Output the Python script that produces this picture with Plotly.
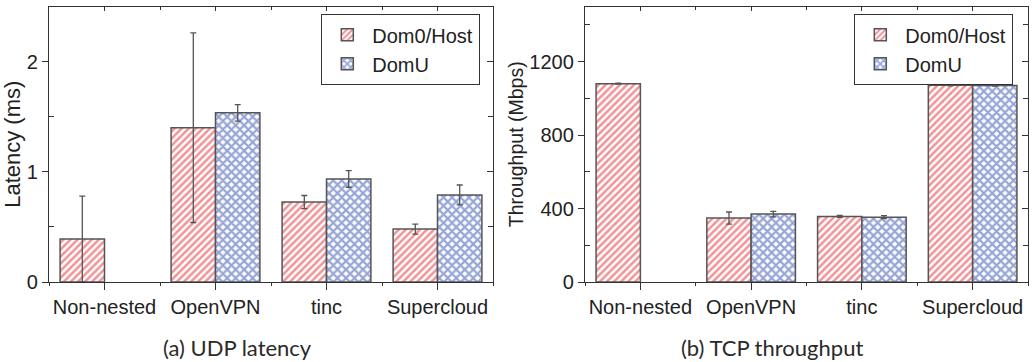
import plotly.graph_objects as go

categories = ["Non-nested", "OpenVPN", "tinc", "Supercloud"]
positions = [1, 2, 3, 4]
boundaries = [0.5, 1.5, 2.5, 3.5, 4.5]

# (a) UDP latency (ms)
lat_host = [0.39, 1.40, 0.725, 0.48]
lat_host_err = [0.39, 0.86, 0.06, 0.045]
lat_domu = [None, 1.535, 0.935, 0.79]
lat_domu_err = [0, 0.075, 0.075, 0.09]
lat_ticks = [0, 1, 2]
lat_minor = [0.5, 1.5, 2.5]

# (b) TCP throughput (Mbps)
tp_host = [1080, 348, 357, 1071]
tp_host_err = [2, 33, 5, 3]
tp_domu = [None, 370, 353, 1070]
tp_domu_err = [0, 15, 8, 3]
tp_ticks = [0, 400, 800, 1200]
tp_minor = [200, 600, 1000, 1400]

RED = "#e5262e"
BLUE = "#2f4bb0"
EDGE = "#555555"
AX = "#333333"
TXT = "#222222"
FONT = "Liberation Sans, Arial, sans-serif"

fig = go.Figure()

def add_pair(host, herr, domu, derr, xa, ya, leg):
    fig.add_trace(go.Bar(
        x=positions, y=host, width=0.4, offset=-0.4, name="Dom0/Host",
        xaxis=xa, yaxis=ya, legend=leg,
        marker=dict(color="white", line=dict(color=EDGE, width=1.5),
                    pattern=dict(shape="/", fgcolor=RED, bgcolor="white", size=5, solidity=0.5)),
        error_y=dict(type="data", array=herr, color=EDGE, thickness=1.3, width=3),
    ))
    fig.add_trace(go.Bar(
        x=positions, y=domu, width=0.4, offset=0.0, name="DomU",
        xaxis=xa, yaxis=ya, legend=leg,
        marker=dict(color="white", line=dict(color=EDGE, width=1.5),
                    pattern=dict(shape="x", fgcolor=BLUE, bgcolor="white", size=6, solidity=0.6)),
        error_y=dict(type="data", array=derr, color=EDGE, thickness=1.3, width=3),
    ))

add_pair(lat_host, lat_host_err, lat_domu, lat_domu_err, "x", "y", "legend")
add_pair(tp_host, tp_host_err, tp_domu, tp_domu_err, "x2", "y2", "legend2")
# empty helper traces so the mirrored (top / right) axes get drawn
fig.add_trace(go.Scatter(x=[], y=[], xaxis="x3", yaxis="y3", showlegend=False, hoverinfo="skip"))
fig.add_trace(go.Scatter(x=[], y=[], xaxis="x4", yaxis="y4", showlegend=False, hoverinfo="skip"))

W, H = 1035, 362
ybot = 1 - 282 / H
ytop = 1 - 6.5 / H
dom_a = [49 / W, 493 / W]
dom_b = [585 / W, 1028 / W]

base = dict(showline=True, linecolor=AX, linewidth=1.3, showgrid=False, zeroline=False,
            automargin=False, tickcolor=AX, tickwidth=1.3)

def xbottom(domain, anchor):
    return dict(domain=domain, anchor=anchor, range=[0.5, 4.5], tickmode="array",
                tickvals=positions, ticktext=categories, ticks="outside", ticklen=7,
                minor=dict(tickmode="array", tickvals=boundaries, ticks="outside", ticklen=3, tickcolor=AX),
                tickfont=dict(family=FONT, size=20, color=TXT), **base)

def xtop(over, anchor):
    return dict(overlaying=over, anchor=anchor, side="top", range=[0.5, 4.5], tickmode="array",
                tickvals=positions, showticklabels=False, ticks="inside", ticklen=4,
                minor=dict(tickmode="array", tickvals=boundaries, ticks="inside", ticklen=3, tickcolor=AX),
                **base)

def yleft(domain, anchor, rng, tv, mv, title, tsize, standoff):
    return dict(domain=domain, anchor=anchor, range=rng, tickmode="array", tickvals=tv,
                ticks="outside", ticklen=6,
                minor=dict(tickmode="array", tickvals=mv, ticks="inside", ticklen=5, tickcolor=AX),
                tickfont=dict(family=FONT, size=20, color=TXT),
                title=dict(text=title, font=dict(family=FONT, size=tsize, color=TXT), standoff=standoff),
                **base)

def yright(over, anchor, rng, tv, mv):
    return dict(overlaying=over, anchor=anchor, side="right", range=rng, tickmode="array",
                tickvals=tv, showticklabels=False, ticks="inside", ticklen=6,
                minor=dict(tickmode="array", tickvals=mv, ticks="inside", ticklen=5, tickcolor=AX),
                **base)

legend_common = dict(xanchor="right", yanchor="top", bordercolor=AX, borderwidth=1.3,
                     bgcolor="white", font=dict(family=FONT, size=20, color=TXT),
                     itemwidth=40, tracegroupgap=0)

fig.update_layout(
    width=W, height=H,
    margin=dict(l=0, r=0, t=0, b=0, autoexpand=False),
    paper_bgcolor="white", plot_bgcolor="white",
    barmode="overlay",
    font=dict(family=FONT, color=TXT),
    xaxis=xbottom(dom_a, "y"),
    xaxis2=xbottom(dom_b, "y2"),
    xaxis3=xtop("x", "y"),
    xaxis4=xtop("x2", "y2"),
    yaxis=yleft([ybot, ytop], "x", [0, 2.5], lat_ticks, lat_minor, "Latency (ms)", 22, 4),
    yaxis2=yleft([ybot, ytop], "x2", [0, 1500], tp_ticks, tp_minor, "Throughput (Mbps)", 19.5, 0),
    yaxis3=yright("y", "x", [0, 2.5], lat_ticks, lat_minor),
    yaxis4=yright("y2", "x2", [0, 1500], tp_ticks, tp_minor),
    legend=dict(x=480 / W, y=1 - 14 / H, **legend_common),
    legend2=dict(x=1013 / W, y=1 - 14 / H, **legend_common),
    annotations=[
        dict(text="(a) UDP latency", x=237 / W, y=1 - 347 / H, xref="paper", yref="paper",
             showarrow=False, xanchor="center", yanchor="middle",
             font=dict(family="Lato", size=22, color="#2a2a2a")),
        dict(text="(b) TCP throughput", x=772 / W, y=1 - 347 / H, xref="paper", yref="paper",
             showarrow=False, xanchor="center", yanchor="middle",
             font=dict(family="Lato", size=22, color="#2a2a2a")),
    ],
)

fig.write_html("out.html", config={"displayModeBar": False},
               post_script="document.body.style.margin='0';")
